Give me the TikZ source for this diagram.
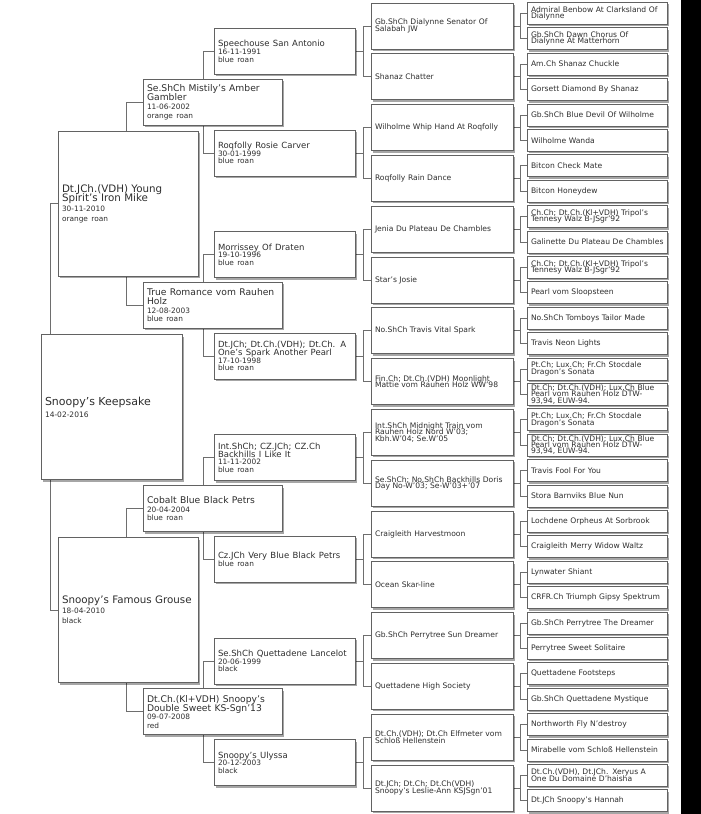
\documentclass[tikz,border=0pt]{standalone}
\usepackage{fontspec}
\setmainfont{DejaVu Sans}
\usetikzlibrary{shadows}
\definecolor{boxc}{HTML}{626262}
\definecolor{linec}{HTML}{6E6E6E}
\definecolor{txtc}{HTML}{2E2E2E}
\newcommand{\fsz}[2]{\fontsize{#1pt}{#2pt}\selectfont\lineskiplimit=-30pt\lineskip=0pt\relax}
\newcommand{\pfA}{\fsz{11}{12}}
\newcommand{\pfAd}{\fsz{7.5}{12}}
\newcommand{\pfB}{\fsz{10.3}{9.6}}
\newcommand{\pfBd}{\fsz{7.4}{10}}
\newcommand{\pfC}{\fsz{9.2}{8.9}}
\newcommand{\pfCd}{\fsz{7.4}{8.7}}
\newcommand{\pfD}{\fsz{8.5}{7.8}}
\newcommand{\pfDd}{\fsz{7.4}{7.6}}
\newcommand{\pfE}{\fsz{7.6}{6.4}}
\newcommand{\plink}[4]{%
  \draw[conn] (#2.west) -- (#2.west -| #4) -- (#3.west -| #4) -- (#3.west);
  \draw[conn] (#1.east) -- (#1.east -| #4);}
\pgfdeclarelayer{bglayer}
\pgfdeclarelayer{connlayer}
\pgfsetlayers{bglayer,connlayer,main}
\begin{document}
\begin{tikzpicture}[x=1pt,y=-1pt,
  pbox/.style={draw=boxc, line width=0.7pt, fill=white, text=txtc,
    inner xsep=4pt, inner ysep=0pt, align=left,
    drop shadow={shadow xshift=2pt, shadow yshift=-2pt, fill=black, opacity=0.35}},
  colA/.style={pbox, text width=133pt, minimum height=145pt},
  colB/.style={pbox, text width=132pt, minimum height=145pt},
  colC/.style={pbox, text width=131pt, minimum height=46pt},
  colD/.style={pbox, text width=133pt, minimum height=46pt},
  colE/.style={pbox, text width=134pt, minimum height=46pt, font=\pfE},
  colF/.style={pbox, text width=132pt, minimum height=22pt, font=\pfE},
  conn/.style={draw=linec, line width=0.8pt}]
\begin{pgfonlayer}{bglayer}
\fill[white] (0,0) rectangle (681,814);
\fill[black] (681,0) rectangle (701,814);
\end{pgfonlayer}
\useasboundingbox (0,0) rectangle (701,814);
\coordinate (v0) at (50,0);
\coordinate (v1) at (126,0);
\coordinate (v2) at (203,0);
\coordinate (v3) at (363,0);
\coordinate (v4) at (520,0);
% generation 0
\node[colA] (a0) at (111.5,407) {\pfA Snoopy's Keepsake\par\pfAd 14-02-2016\par};
% generation 1
\node[colB] (b0) at (128,203.8) {\pfB\mbox{Dt.JCh.(VDH) Young}\\\mbox{Spirit's Iron Mike}\par\pfBd 30-11-2010\\orange roan\par};
\node[colB] (b1) at (128,610.2) {\pfB\mbox{Snoopy's Famous Grouse}\par\pfBd 18-04-2010\\black\par};
% generation 2
\node[colC] (c0) at (212.5,102.2) {\pfC\mbox{Se.ShCh Mistily's Amber}\\Gambler\par\pfCd 11-06-2002\\orange roan\par};
\node[colC] (c1) at (212.5,305.4) {\pfC\mbox{True Romance vom Rauhen}\\Holz\par\pfCd 12-08-2003\\blue roan\par};
\node[colC] (c2) at (212.5,508.6) {\pfC\mbox{Cobalt Blue Black Petrs}\par\pfCd 20-04-2004\\blue roan\par};
\node[colC] (c3) at (212.5,711.8) {\pfC\mbox{Dt.Ch.(Kl+VDH) Snoopy's}\\\mbox{Double Sweet KS-Sgn'13}\par\pfCd 09-07-2008\\red\par};
% generation 3
\node[colD] (d0) at (284.5,51.4) {\pfD\mbox{Speechouse San Antonio}\par\pfDd 16-11-1991\\blue roan\par};
\node[colD] (d1) at (284.5,153) {\pfD\mbox{Roqfolly Rosie Carver}\par\pfDd 30-01-1999\\blue roan\par};
\node[colD] (d2) at (284.5,254.6) {\pfD\mbox{Morrissey Of Draten}\par\pfDd 19-10-1996\\blue roan\par};
\node[colD] (d3) at (284.5,356.2) {\pfD\mbox{Dt.JCh; Dt.Ch.(VDH); Dt.Ch. A}\\\mbox{One's Spark Another Pearl}\par\pfDd 17-10-1998\\blue roan\par};
\node[colD] (d4) at (284.5,457.8) {\pfD\mbox{Int.ShCh; CZ.JCh; CZ.Ch}\\\mbox{Backhills I Like It}\par\pfDd 11-11-2002\\blue roan\par};
\node[colD] (d5) at (284.5,559.4) {\pfD\mbox{Cz.JCh Very Blue Black Petrs}\par\pfDd blue roan\par};
\node[colD] (d6) at (284.5,661) {\pfD\mbox{Se.ShCh Quettadene Lancelot}\par\pfDd 20-06-1999\\black\par};
\node[colD] (d7) at (284.5,762.6) {\pfD\mbox{Snoopy's Ulyssa}\par\pfDd 20-12-2003\\black\par};
% generation 4
\node[colE] (e0) at (442,26) {\mbox{Gb.ShCh Dialynne Senator Of}\\\mbox{Salabah JW}};
\node[colE] (e1) at (442,76.8) {\mbox{Shanaz Chatter}};
\node[colE] (e2) at (442,127.6) {\mbox{Wilholme Whip Hand At Roqfolly}};
\node[colE] (e3) at (442,178.4) {\mbox{Roqfolly Rain Dance}};
\node[colE] (e4) at (442,229.2) {\mbox{Jenia Du Plateau De Chambles}};
\node[colE] (e5) at (442,280) {\mbox{Star's Josie}};
\node[colE] (e6) at (442,330.8) {\mbox{No.ShCh Travis Vital Spark}};
\node[colE] (e7) at (442,381.6) {\mbox{Fin.Ch; Dt.Ch.(VDH) Moonlight}\\\mbox{Mattie vom Rauhen Holz WW'98}};
\node[colE] (e8) at (442,432.4) {\mbox{Int.ShCh Midnight Train vom}\\\mbox{Rauhen Holz Nord W'03;}\\\mbox{Kbh.W'04; Se.W'05}};
\node[colE] (e9) at (442,483.2) {\mbox{Se.ShCh; No.ShCh Backhills Doris}\\\mbox{Day No-W'03; Se-W'03+'07}};
\node[colE] (e10) at (442,534) {\mbox{Craigleith Harvestmoon}};
\node[colE] (e11) at (442,584.8) {\mbox{Ocean Skar-line}};
\node[colE] (e12) at (442,635.6) {\mbox{Gb.ShCh Perrytree Sun Dreamer}};
\node[colE] (e13) at (442,686.4) {\mbox{Quettadene High Society}};
\node[colE] (e14) at (442,737.2) {\mbox{Dt.Ch.(VDH); Dt.Ch Elfmeter vom}\\\mbox{Schloß Hellenstein}};
\node[colE] (e15) at (442,788) {\mbox{Dt.JCh; Dt.Ch; Dt.Ch(VDH)}\\\mbox{Snoopy's Leslie-Ann KSJSgn'01}};
% generation 5
\node[colF] (f0) at (597,13.3) {\mbox{Admiral Benbow At Clarksland Of}\\\mbox{Dialynne}};
\node[colF] (f1) at (597,38.7) {\mbox{Gb.ShCh Dawn Chorus Of}\\\mbox{Dialynne At Matterhorn}};
\node[colF] (f2) at (597,64.1) {\mbox{Am.Ch Shanaz Chuckle}};
\node[colF] (f3) at (597,89.5) {\mbox{Gorsett Diamond By Shanaz}};
\node[colF] (f4) at (597,114.9) {\mbox{Gb.ShCh Blue Devil Of Wilholme}};
\node[colF] (f5) at (597,140.3) {\mbox{Wilholme Wanda}};
\node[colF] (f6) at (597,165.7) {\mbox{Bitcon Check Mate}};
\node[colF] (f7) at (597,191.1) {\mbox{Bitcon Honeydew}};
\node[colF] (f8) at (597,216.5) {\mbox{Ch.Ch; Dt.Ch.(Kl+VDH) Tripol's}\\\mbox{Tennesy Walz B-JSgr'92}};
\node[colF] (f9) at (597,241.9) {\mbox{Galinette Du Plateau De Chambles}};
\node[colF] (f10) at (597,267.3) {\mbox{Ch.Ch; Dt.Ch.(Kl+VDH) Tripol's}\\\mbox{Tennesy Walz B-JSgr'92}};
\node[colF] (f11) at (597,292.7) {\mbox{Pearl vom Sloopsteen}};
\node[colF] (f12) at (597,318.1) {\mbox{No.ShCh Tomboys Tailor Made}};
\node[colF] (f13) at (597,343.5) {\mbox{Travis Neon Lights}};
\node[colF] (f14) at (597,368.9) {\mbox{Pt.Ch; Lux.Ch; Fr.Ch Stocdale}\\\mbox{Dragon's Sonata}};
\node[colF] (f15) at (597,394.3) {\mbox{Dt.Ch; Dt.Ch.(VDH); Lux.Ch Blue}\\\mbox{Pearl vom Rauhen Holz DTW-}\\\mbox{93,94, EUW-94.}};
\node[colF] (f16) at (597,419.7) {\mbox{Pt.Ch; Lux.Ch; Fr.Ch Stocdale}\\\mbox{Dragon's Sonata}};
\node[colF] (f17) at (597,445.1) {\mbox{Dt.Ch; Dt.Ch.(VDH); Lux.Ch Blue}\\\mbox{Pearl vom Rauhen Holz DTW-}\\\mbox{93,94, EUW-94.}};
\node[colF] (f18) at (597,470.5) {\mbox{Travis Fool For You}};
\node[colF] (f19) at (597,495.9) {\mbox{Stora Barnviks Blue Nun}};
\node[colF] (f20) at (597,521.3) {\mbox{Lochdene Orpheus At Sorbrook}};
\node[colF] (f21) at (597,546.7) {\mbox{Craigleith Merry Widow Waltz}};
\node[colF] (f22) at (597,572.1) {\mbox{Lynwater Shiant}};
\node[colF] (f23) at (597,597.5) {\mbox{CRFR.Ch Triumph Gipsy Spektrum}};
\node[colF] (f24) at (597,622.9) {\mbox{Gb.ShCh Perrytree The Dreamer}};
\node[colF] (f25) at (597,648.3) {\mbox{Perrytree Sweet Solitaire}};
\node[colF] (f26) at (597,673.7) {\mbox{Quettadene Footsteps}};
\node[colF] (f27) at (597,699.1) {\mbox{Gb.ShCh Quettadene Mystique}};
\node[colF] (f28) at (597,724.5) {\mbox{Northworth Fly N'destroy}};
\node[colF] (f29) at (597,749.9) {\mbox{Mirabelle vom Schloß Hellenstein}};
\node[colF] (f30) at (597,775.3) {\mbox{Dt.Ch.(VDH), Dt.JCh. Xeryus A}\\\mbox{One Du Domaine D'haisha}};
\node[colF] (f31) at (597,800.7) {\mbox{Dt.JCh Snoopy's Hannah}};
% connectors
\begin{pgfonlayer}{connlayer}
\plink{a0}{b0}{b1}{v0}
\plink{b0}{c0}{c1}{v1}
\plink{b1}{c2}{c3}{v1}
\foreach \i in {0,...,3}{%
  \pgfmathtruncatemacro{\ja}{2*\i}\pgfmathtruncatemacro{\jb}{2*\i+1}%
  \plink{c\i}{d\ja}{d\jb}{v2}}
\foreach \i in {0,...,7}{%
  \pgfmathtruncatemacro{\ja}{2*\i}\pgfmathtruncatemacro{\jb}{2*\i+1}%
  \plink{d\i}{e\ja}{e\jb}{v3}}
\foreach \i in {0,...,15}{%
  \pgfmathtruncatemacro{\ja}{2*\i}\pgfmathtruncatemacro{\jb}{2*\i+1}%
  \plink{e\i}{f\ja}{f\jb}{v4}}
\end{pgfonlayer}
\end{tikzpicture}
\end{document}
